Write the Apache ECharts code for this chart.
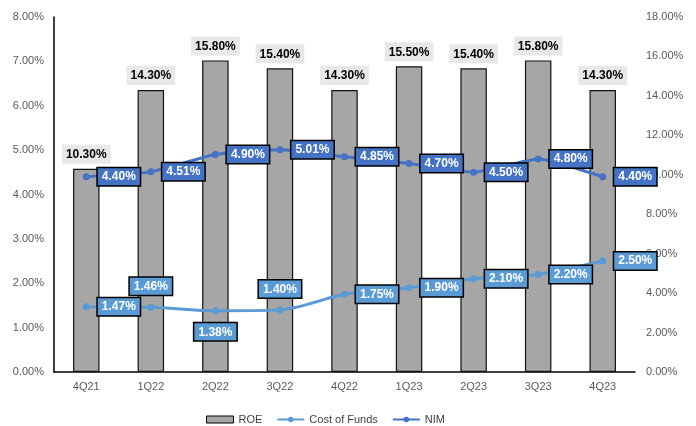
<!DOCTYPE html>
<html>
<head>
<meta charset="utf-8">
<script src="https://cdn.jsdelivr.net/npm/echarts@6/dist/echarts.min.js"></script>
<style>
  html, body { margin: 0; padding: 0; background: #fff; }
  #chart { width: 696px; height: 426px; }
</style>
</head>
<body>
<div id="chart"></div>
<script>
// Quarterly figures, in percent
const quarters = ['4Q21', '1Q22', '2Q22', '3Q22', '4Q22', '1Q23', '2Q23', '3Q23', '4Q23'];
const roe = [10.30, 14.30, 15.80, 15.40, 14.30, 15.50, 15.40, 15.80, 14.30];
const costOfFunds = [1.47, 1.46, 1.38, 1.40, 1.75, 1.90, 2.10, 2.20, 2.50];
const nim = [4.40, 4.51, 4.90, 5.01, 4.85, 4.70, 4.50, 4.80, 4.40];

// Where each cost-of-funds label sits relative to its point
const cofLabelPlacement = ['right', 'top', 'bottom', 'top', 'right', 'right', 'right', 'right', 'right'];

const pct = v => v.toFixed(2) + '%';
const FONT = '"Liberation Sans", Arial, sans-serif';

const boxLabel = (bg) => ({
  show: true,
  position: 'right',
  distance: 8,
  formatter: p => pct(p.value),
  color: '#fff',
  fontFamily: FONT,
  fontWeight: 'bold',
  fontSize: 12,
  backgroundColor: bg,
  borderColor: '#000',
  borderWidth: 1.5,
  padding: [3, 4, 2, 4]
});

const chart = echarts.init(document.getElementById('chart'));
chart.setOption({
  animation: false,
  textStyle: { fontFamily: FONT },
  grid: { left: 54, right: 61, top: 17, bottom: 54 },
  legend: {
    top: 409,
    left: 201,
    itemWidth: 27,
    itemHeight: 7,
    itemGap: 14,
    textStyle: { color: '#404040', fontSize: 11, fontFamily: FONT },
    data: [
      { name: 'ROE', icon: 'rect', itemStyle: { borderColor: '#000', borderWidth: 1 } },
      { name: 'Cost of Funds' },
      { name: 'NIM' }
    ]
  },
  xAxis: {
    type: 'category',
    data: quarters,
    axisLine: { lineStyle: { color: '#000', width: 1.5 } },
    axisTick: { show: false },
    axisLabel: { color: '#595959', fontSize: 11, margin: 9 }
  },
  yAxis: [
    {
      type: 'value', min: 0, max: 8, interval: 1,
      splitLine: { show: false },
      axisLine: { show: true, lineStyle: { color: '#000', width: 1.5 } },
      axisTick: { show: false },
      axisLabel: { color: '#595959', fontSize: 11, margin: 10, formatter: v => v.toFixed(2) + '%' }
    },
    {
      type: 'value', min: 0, max: 18, interval: 2,
      splitLine: { show: false },
      axisLine: { show: false },
      axisTick: { show: false },
      axisLabel: { color: '#595959', fontSize: 11, margin: 11, formatter: v => v.toFixed(2) + '%' }
    }
  ],
  series: [
    {
      name: 'ROE',
      type: 'bar',
      yAxisIndex: 1,
      data: roe,
      barWidth: '41%',
      itemStyle: { color: '#A6A6A6', borderColor: '#111', borderWidth: 1.2 },
      label: {
        show: true,
        position: 'top',
        distance: 5,
        formatter: p => pct(p.value),
        color: '#000',
        fontWeight: 'bold',
        fontSize: 12,
        fontFamily: FONT,
        backgroundColor: '#E8E8E8',
        padding: [4, 4, 3, 4]
      },
      z: 1
    },
    {
      name: 'Cost of Funds',
      type: 'line',
      data: costOfFunds.map((v, i) => ({
        value: v,
        label: { position: cofLabelPlacement[i], distance: cofLabelPlacement[i] === 'right' ? 8 : 9 }
      })),
      smooth: 0.3,
      symbol: 'circle',
      symbolSize: 7,
      lineStyle: { color: '#5B9BD5', width: 3 },
      itemStyle: { color: '#5B9BD5' },
      label: boxLabel('#5B9BD5'),
      z: 3
    },
    {
      name: 'NIM',
      type: 'line',
      data: nim,
      smooth: 0.15,
      symbol: 'circle',
      symbolSize: 7,
      lineStyle: { color: '#4472C4', width: 3 },
      itemStyle: { color: '#4472C4' },
      label: boxLabel('#4472C4'),
      z: 4
    }
  ]
});
</script>
</body>
</html>
